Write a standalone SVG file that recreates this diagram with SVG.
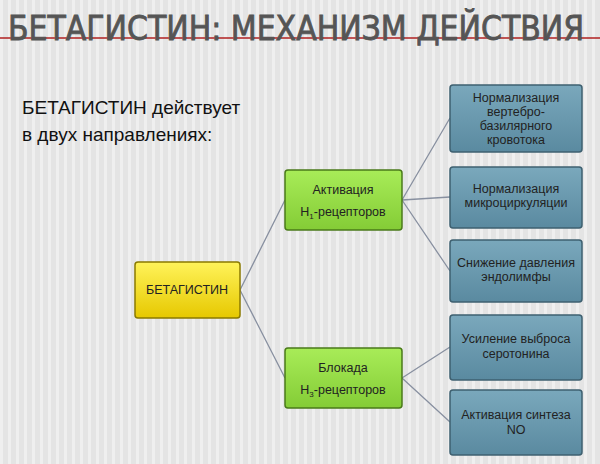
<svg xmlns="http://www.w3.org/2000/svg" width="600" height="464" viewBox="0 0 600 464">
<defs>
<pattern id="st" width="8" height="8" patternUnits="userSpaceOnUse"><rect width="8" height="8" fill="#e4e4e4"/><rect width="3" height="8" fill="#efefef"/></pattern>
<linearGradient id="gy" x1="0" y1="0" x2="0" y2="1"><stop offset="0" stop-color="#fff35a"/><stop offset="1" stop-color="#e6c800"/></linearGradient>
<linearGradient id="gg" x1="0" y1="0" x2="0" y2="1"><stop offset="0" stop-color="#a8ec58"/><stop offset="1" stop-color="#84cc36"/></linearGradient>
<linearGradient id="gb" x1="0" y1="0" x2="0" y2="1"><stop offset="0" stop-color="#7aa8bc"/><stop offset="1" stop-color="#5a8aa0"/></linearGradient>
</defs>
<style>
.t{font-family:"Liberation Sans",Arial,sans-serif;font-size:12.5px;fill:#222;text-anchor:middle}
.y{fill:url(#gy);stroke:#8a7a00;stroke-width:1.5}
.g{fill:url(#gg);stroke:#4a7a1a;stroke-width:1.5}
.b{fill:url(#gb);stroke:#3e6070;stroke-width:1.5}
.c{stroke:#8890a0;stroke-width:1.3;fill:none}
</style>
<rect width="600" height="464" fill="url(#st)"/>
<line x1="0" y1="38" x2="600" y2="38" stroke="#b02020" stroke-width="1.5"/>
<text x="8" y="40" font-family="DejaVu Sans Condensed,sans-serif" font-size="33" fill="#555" stroke="#555" stroke-width="0.8" textLength="576" lengthAdjust="spacingAndGlyphs">БЕТАГИСТИН: МЕХАНИЗМ ДЕЙСТВИЯ</text>
<text x="22" y="114" font-family="Liberation Sans,Arial,sans-serif" font-size="19" fill="#111">БЕТАГИСТИН действует</text>
<text x="22" y="141" font-family="Liberation Sans,Arial,sans-serif" font-size="19" fill="#111">в двух направлениях:</text>
<g id="connectors">
<path class="c" d="M240 290L285 200M240 290L285 378M402 200L450 118M402 200L450 197M402 200L450 271M402 378L450 347M402 378L450 422"/>
</g>
<g id="n0"><rect class="y" x="135" y="262" width="105" height="56" rx="3"/><text class="t" x="187" y="294" font-size="11">БЕТАГИСТИН</text></g>
<g id="n1"><rect class="g" x="285" y="170" width="117" height="60" rx="3"/><text class="t" x="343" y="194">Активация</text><text class="t" x="343" y="216">H<tspan font-size="8" dy="3">1</tspan><tspan dy="-3">-рецепторов</tspan></text></g>
<g id="n2"><rect class="g" x="285" y="348" width="117" height="60" rx="3"/><text class="t" x="343" y="372">Блокада</text><text class="t" x="343" y="394">H<tspan font-size="8" dy="3">3</tspan><tspan dy="-3">-рецепторов</tspan></text></g>
<g id="b1"><rect class="b" x="450" y="85" width="132" height="67" rx="3"/><text class="t" x="516" y="102">Нормализация</text><text class="t" x="516" y="116">вертебро-</text><text class="t" x="516" y="130">базилярного</text><text class="t" x="516" y="144">кровотока</text></g>
<g id="b2"><rect class="b" x="450" y="167" width="132" height="61" rx="3"/><text class="t" x="516" y="193">Нормализация</text><text class="t" x="516" y="207">микроциркуляции</text></g>
<g id="b3"><rect class="b" x="450" y="240" width="132" height="62" rx="3"/><text class="t" x="516" y="267">Снижение давления</text><text class="t" x="516" y="281">эндолимфы</text></g>
<g id="b4"><rect class="b" x="450" y="315" width="132" height="65" rx="3"/><text class="t" x="516" y="343">Усиление выброса</text><text class="t" x="516" y="358">серотонина</text></g>
<g id="b5"><rect class="b" x="450" y="390" width="132" height="65" rx="3"/><text class="t" x="516" y="419">Активация синтеза</text><text class="t" x="516" y="434">NO</text></g>
</svg>
